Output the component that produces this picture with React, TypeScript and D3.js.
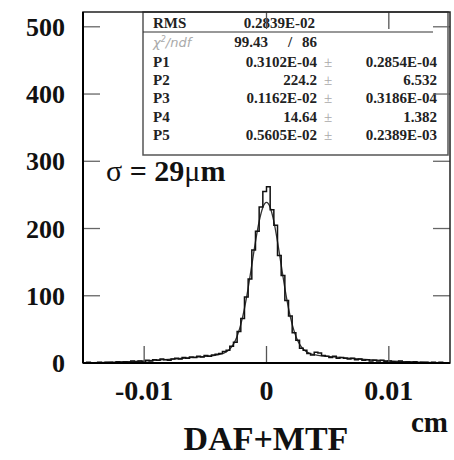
import { useMemo } from 'react'
import * as d3 from 'd3'

// histogram: 100 bins from -0.015 to 0.015 cm
const binLo = -0.015
const binHi = 0.015
const counts = [
    0, 1, 0, 0, 1, 0, 1, 1, 0, 2,
    1, 2, 1, 3, 2, 3, 2, 4, 3, 5,
    4, 6, 5, 4, 6, 7, 6, 8, 7, 9,
    8, 10, 9, 11, 10, 12, 13, 14, 17, 19,
    25, 31, 47, 66, 98, 125, 168, 196, 232, 255,
    262, 228, 205, 160, 130, 93, 70, 45, 34, 22,
    19, 14, 12, 16, 15, 11, 10, 8, 10, 7,
    8, 7, 6, 7, 5, 6, 4, 5, 3, 4,
    3, 4, 2, 3, 2, 1, 3, 1, 2, 1,
    2, 0, 1, 1, 0, 1, 0, 1, 0, 0
]

// fitted curve
const fitX = [
    -0.015, -0.0125, -0.01, -0.008, -0.007, -0.006, -0.005, -0.0045, -0.004, -0.0035,
    -0.003, -0.0027, -0.0024, -0.0021, -0.0018, -0.0015, -0.0012, -0.0009, -0.0006, -0.0003,
    0,
    0.0003, 0.0006, 0.0009, 0.0012, 0.0015, 0.0018, 0.0021, 0.0024, 0.0027, 0.003,
    0.0035, 0.004, 0.0045, 0.005, 0.006, 0.007, 0.008, 0.01, 0.0125, 0.015
]
const fitY = [
    0.4, 1.2, 3.0, 5.3, 6.7, 8.3, 9.8, 10.6, 12.0, 14.5,
    20.7, 28.1, 39.9, 57.4, 81.4, 111.5, 145.8, 180.6, 210.7, 231.4,
    238.8,
    231.4, 210.7, 180.6, 145.8, 111.5, 81.4, 57.4, 39.9, 28.1, 20.7,
    14.5, 12.0, 10.6, 9.8, 8.3, 6.7, 5.3, 3.0, 1.2, 0.4
]

const xTicks = [-0.01, 0, 0.01]
const xTickLabels = ['-0.01', '0', '0.01']
const yTicks = [0, 100, 200, 300, 400, 500]

const statNames = ['P1', 'P2', 'P3', 'P4', 'P5']
const statValues = ['0.3102E-04', '224.2', '0.1162E-02', '14.64', '0.5605E-02']
const statErrors = ['0.2854E-04', '6.532', '0.3186E-04', '1.382', '0.2389E-03']
const rmsValue = '0.2839E-02'
const chi2 = '99.43'
const ndf = '86'

const W = 454
const H = 460
const frame = { left: 83, right: 450, top: 12, bottom: 363 }
const tickLen = 17
const serif = '"Liberation Serif", "Times New Roman", serif'

export default function App() {
    const xScale = useMemo(
        () => d3.scaleLinear().domain([-0.015, 0.015]).range([frame.left, frame.right]),
        []
    )
    const yScale = useMemo(
        () => d3.scaleLinear().domain([0, 522]).range([frame.bottom, frame.top]),
        []
    )

    const binW = (binHi - binLo) / counts.length
    const histPts: [number, number][] = counts.map((c, i) => [binLo + i * binW, c])
    histPts.push([binHi, counts[counts.length - 1]])
    const histPath = d3
        .line<[number, number]>()
        .x((d) => xScale(d[0]))
        .y((d) => yScale(d[1]))
        .curve(d3.curveStepAfter)(histPts)

    const fitPath = d3
        .line<number>()
        .x((_, i) => xScale(fitX[i]))
        .y((d) => yScale(d))
        .curve(d3.curveMonotoneX)(fitY)

    const box = { x: 143, y: frame.top, w: 305, h: 143 }
    const rowY = [28, 47, 67, 85, 103, 122, 140]

    return (
        <svg
            width={W}
            height={H}
            style={{ position: 'absolute', left: 0, top: 0, background: '#fff' }}
            fontFamily={serif}
        >
            <rect x={0} y={0} width={W} height={H} fill="#fff" />

            {/* data */}
            <path d={fitPath ?? ''} fill="none" stroke="#333" strokeWidth={1.3} />
            <path d={histPath ?? ''} fill="none" stroke="#111" strokeWidth={1.5} />

            {/* stats box */}
            <rect
                x={box.x}
                y={box.y}
                width={box.w}
                height={box.h}
                fill="#fff"
                stroke="#555"
                strokeWidth={1.5}
            />
            <line x1={box.x} x2={433} y1={32} y2={32} stroke="#333" strokeWidth={1.2} />
            <g fontWeight="bold" fontSize={15} fill="#222">
                <text x={153} y={rowY[0]}>RMS</text>
                <text x={315} y={rowY[0]} textAnchor="end">{rmsValue}</text>
                <text
                    x={153}
                    y={rowY[1]}
                    fill="#aaa"
                    fontWeight="normal"
                    fontStyle="italic"
                    fontFamily='"DejaVu Sans", sans-serif'
                    fontSize={13}
                >
                    χ<tspan dy={-5} fontSize={8}>2</tspan>
                    <tspan dy={5}>/ndf</tspan>
                </text>
                <text x={268} y={rowY[1]} textAnchor="end">{chi2}</text>
                <text x={290} y={rowY[1]} textAnchor="middle">/</text>
                <text x={317} y={rowY[1]} textAnchor="end">{ndf}</text>
                {statNames.map((n, i) => (
                    <g key={n}>
                        <text x={153} y={rowY[i + 2]}>{n}</text>
                        <text x={317} y={rowY[i + 2]} textAnchor="end">
                            {statValues[i]}
                        </text>
                        <text x={328} y={rowY[i + 2]} textAnchor="middle" fill="#aaa" fontWeight="normal">
                            ±
                        </text>
                        <text x={437} y={rowY[i + 2]} textAnchor="end">
                            {statErrors[i]}
                        </text>
                    </g>
                ))}
            </g>

            {/* ticks, both sides */}
            {yTicks.map((t) => (
                <g key={t} stroke="#666" strokeWidth={1.3}>
                    <line x1={frame.left} x2={frame.left + tickLen} y1={yScale(t)} y2={yScale(t)} />
                    <line x1={frame.right - tickLen} x2={frame.right} y1={yScale(t)} y2={yScale(t)} />
                </g>
            ))}
            {xTicks.map((t) => (
                <g key={t} stroke="#555" strokeWidth={1.3}>
                    <line x1={xScale(t)} x2={xScale(t)} y1={frame.bottom} y2={frame.bottom - tickLen} />
                    {t > -0.01 && (
                        <line x1={xScale(t)} x2={xScale(t)} y1={frame.top} y2={frame.top + tickLen} />
                    )}
                </g>
            ))}

            {/* frame */}
            <rect
                x={frame.left}
                y={frame.top}
                width={frame.right - frame.left}
                height={frame.bottom - frame.top}
                fill="none"
                stroke="#222"
                strokeWidth={1.5}
            />
            <line x1={frame.left} x2={frame.left} y1={frame.top} y2={frame.bottom} stroke="#000" strokeWidth={2} />
            <line x1={frame.left} x2={frame.right} y1={frame.bottom} y2={frame.bottom} stroke="#000" strokeWidth={2} />

            {/* tick labels */}
            <g fontWeight="bold" fontSize={26} fill="#111">
                {yTicks.map((t) => (
                    <text key={t} x={65} y={yScale(t)} dy="0.35em" textAnchor="end">
                        {t}
                    </text>
                ))}
                {xTicks.map((t, i) => (
                    <text key={t} x={xScale(t)} y={400} textAnchor="middle" fontSize={28}>
                        {xTickLabels[i]}
                    </text>
                ))}
            </g>

            <text x={106} y={181} fontSize={30} fill="#111">
                σ <tspan fontWeight="bold">= 29</tspan>μ<tspan fontWeight="bold">m</tspan>
            </text>

            <text x={266} y={450} textAnchor="middle" fontWeight="bold" fontSize={34} fill="#111">
                DAF+MTF
            </text>
            <text x={448} y={432} textAnchor="end" fontWeight="bold" fontSize={29} fill="#111">
                cm
            </text>
        </svg>
    )
}
